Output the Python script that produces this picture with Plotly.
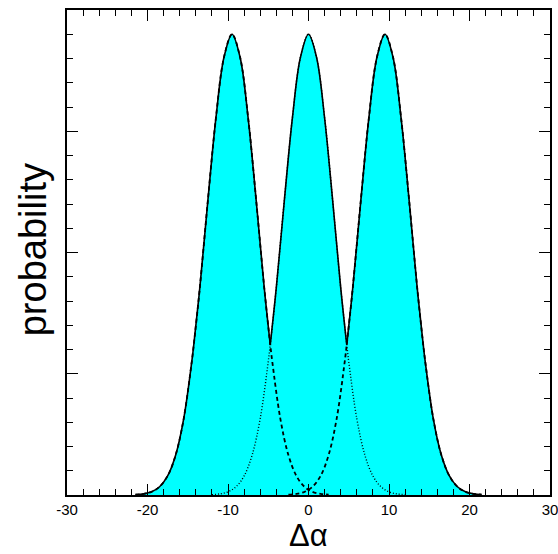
import plotly.graph_objects as go

# Data
offsets = [-12, -11, -10, -9, -8, -7, -6, -5, -4.75, -4, -3, -2, -1, 0,
           1, 2, 3, 4, 4.75, 5, 6, 7, 8, 9, 10, 11, 12]
centers = [-9.5, 0.0, 9.5]
left_vals = [0.003, 0.009, 0.026, 0.068, 0.157, 0.33, 0.63, 1.10, 1.24, 1.71, 2.43, 3.11, 3.61, 3.80,
             3.61, 3.11, 2.43, 1.71, 1.24, 1.10, 0.63, 0.33, 0.157, 0.068, 0.026, 0.009, 0.003]
center_vals = [0.003, 0.009, 0.026, 0.068, 0.157, 0.33, 0.63, 1.10, 1.24, 1.71, 2.43, 3.11, 3.61, 3.80,
               3.61, 3.11, 2.43, 1.71, 1.24, 1.10, 0.63, 0.33, 0.157, 0.068, 0.026, 0.009, 0.003]
right_vals = [0.003, 0.009, 0.026, 0.068, 0.157, 0.33, 0.63, 1.10, 1.24, 1.71, 2.43, 3.11, 3.61, 3.80,
              3.61, 3.11, 2.43, 1.71, 1.24, 1.10, 0.63, 0.33, 0.157, 0.068, 0.026, 0.009, 0.003]
crossing = 4.75
x_ticks = [-30, -20, -10, 0, 10, 20, 30]
x_title = "Δα"
y_title = "probability"

curves = [left_vals, center_vals, right_vals]
styles = [("4px,3px", 1.8), ("1px,2px", 1.4), ("4px,3px", 1.8)]

fig = go.Figure()

# filled areas
for c, vals in zip(centers, curves):
    xs = [c + o for o in offsets]
    fig.add_trace(go.Scatter(x=xs, y=vals, mode="lines", line=dict(width=0, shape="spline", color="#00FFFF"),
                             fill="tozeroy", fillcolor="#00FFFF", showlegend=False, hoverinfo="skip"))

# hidden parts (dotted / dashed)
for c, vals, (st, w) in zip(centers, curves, styles):
    xs = [c + o for o in offsets]
    fig.add_trace(go.Scatter(x=xs, y=vals, mode="lines",
                             line=dict(width=w, shape="spline", color="black", dash=st),
                             showlegend=False, hoverinfo="skip"))

# envelope (solid)
keep = [lambda o: o <= crossing, lambda o: -crossing <= o <= crossing, lambda o: o >= -crossing]
for c, vals, k in zip(centers, curves, keep):
    xs = [c + o for o, v in zip(offsets, vals) if k(o)]
    ys = [v for o, v in zip(offsets, vals) if k(o)]
    fig.add_trace(go.Scatter(x=xs, y=ys, mode="lines",
                             line=dict(width=1.6, shape="spline", color="black"),
                             showlegend=False, hoverinfo="skip"))

axis_common = dict(showline=True, linecolor="black", linewidth=2, mirror="ticks", automargin=False,
                   ticks="inside", tickcolor="black", showgrid=False, zeroline=False)

fig.update_xaxes(range=[-30, 30], tickvals=x_ticks, ticktext=[str(t) for t in x_ticks],
                 ticklen=11, tickwidth=1.2, ticklabeloverflow="allow",
                 minor=dict(dtick=2, ticklen=6, ticks="inside", tickcolor="black", tickwidth=1.2, showgrid=False),
                 tickfont=dict(family="Liberation Sans, Arial", size=15, color="black"),
                 **axis_common)
fig.update_yaxes(range=[0, 4], dtick=1, showticklabels=False, ticklen=11, tickwidth=1.2,
                 minor=dict(dtick=0.2, ticklen=6, ticks="inside", tickcolor="black", tickwidth=1.2, showgrid=False),
                 **axis_common)

fig.add_annotation(text=x_title, xref="paper", yref="paper", x=0.5, y=-0.0825, xanchor="center",
                   yanchor="middle", showarrow=False, borderpad=0,
                   font=dict(family="Liberation Sans, Arial", size=31, color="black"))
fig.add_annotation(text=y_title, xref="paper", yref="paper", x=-0.07, y=0.505, xanchor="center",
                   yanchor="middle", showarrow=False, textangle=-90,
                   font=dict(family="Liberation Sans, Arial", size=38, color="black"))

fig.update_layout(width=558, height=554, plot_bgcolor="white", paper_bgcolor="white",
                  margin=dict(l=67, r=8, t=10, b=59))

fig.write_html("out.html", config={"displayModeBar": False},
               post_script="document.body.style.margin='0';document.body.style.overflow='hidden';")
